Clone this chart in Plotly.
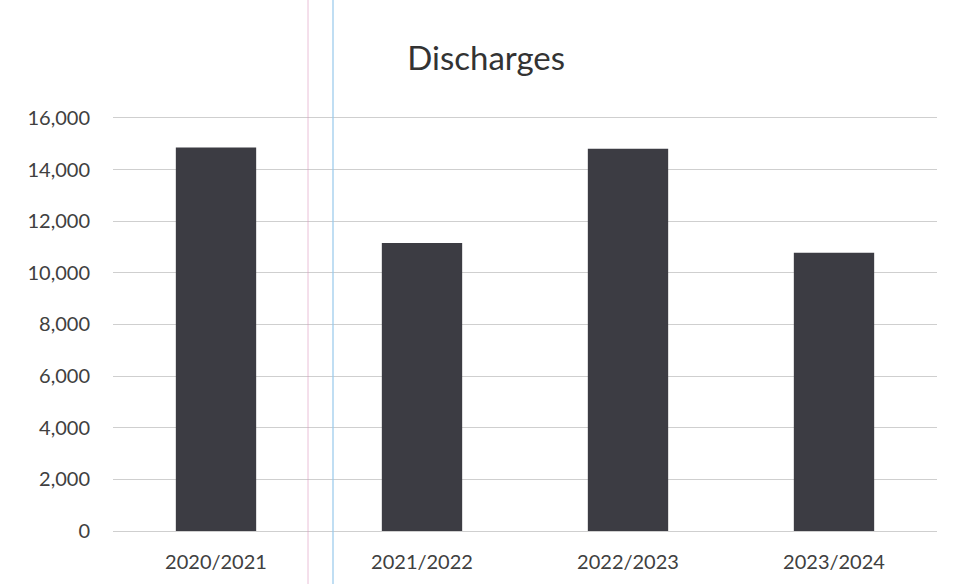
import plotly.graph_objects as go

categories = ["2020/2021", "2021/2022", "2022/2023", "2023/2024"]
discharges = [14850, 11150, 14800, 10780]
y_ticks = [0, 2000, 4000, 6000, 8000, 10000, 12000, 14000, 16000]
y_tick_labels = ["0", "2,000", "4,000", "6,000", "8,000", "10,000", "12,000", "14,000", "16,000"]

fig = go.Figure(go.Bar(
    x=categories, y=discharges,
    marker=dict(color="#3c3c43", line=dict(width=0)),
    width=0.39,
))

fig.update_layout(
    width=957, height=584,
    margin=dict(l=113, r=20, t=114, b=53),
    paper_bgcolor="white", plot_bgcolor="white",
    title=dict(text="Discharges", x=0.508, xanchor="center", y=0.9, yanchor="middle",
               font=dict(family="Lato, Open Sans, sans-serif", size=33, color="#333333")),
    font=dict(family="Lato, Open Sans, sans-serif", size=20, color="#404040"),
    showlegend=False,
    shapes=[
        dict(type="line", xref="paper", yref="paper", x0=(308-113)/824, x1=(308-113)/824, y0=-0.13, y1=1.3,
             line=dict(color="rgba(220,150,190,0.6)", width=1)),
        dict(type="line", xref="paper", yref="paper", x0=(333-113)/824, x1=(333-113)/824, y0=-0.13, y1=1.3,
             line=dict(color="rgba(150,200,235,0.6)", width=2)),
    ],
)
fig.update_xaxes(showgrid=False, showline=False, ticks="", ticklabelstandoff=17,
                 tickfont=dict(size=20, color="#404040"))
fig.update_yaxes(range=[0, 16150], tickvals=y_ticks, ticktext=y_tick_labels,
                 showgrid=True, gridcolor="#cfcfcf", gridwidth=1, zeroline=True,
                 zerolinecolor="#cfcfcf", zerolinewidth=1, showline=False,
                 ticks="", ticklabelstandoff=22, tickfont=dict(size=20, color="#404040"))

fig.write_html("out.html")
